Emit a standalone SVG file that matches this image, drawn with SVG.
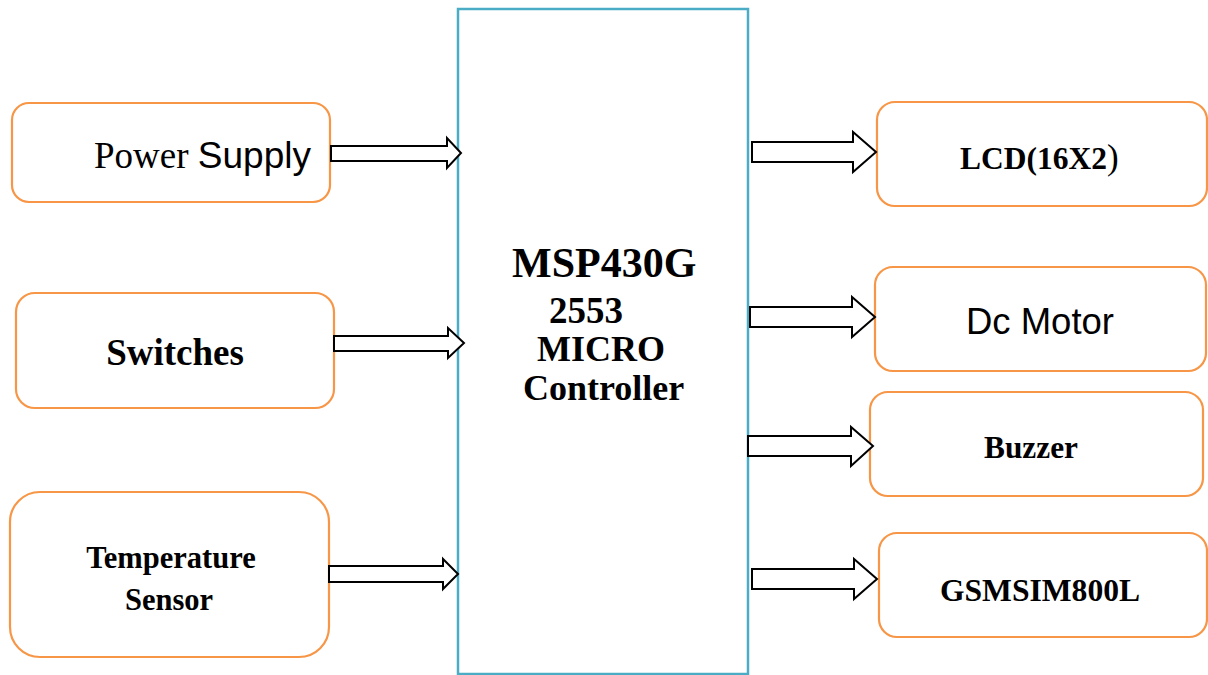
<svg xmlns="http://www.w3.org/2000/svg" width="1208" height="675" viewBox="0 0 1208 675">
<style>
.box{fill:#fff;stroke:#f79646;stroke-width:2.2}
.mcu{fill:#fff;stroke:#4bacc6;stroke-width:2.5}
.arr{fill:#fff;stroke:#000;stroke-width:2;stroke-linejoin:miter}
.tb{font-family:"Liberation Serif","Times New Roman",serif;font-weight:bold;fill:#000}
.tr{font-family:"Liberation Serif","Times New Roman",serif;fill:#000}
.ar{font-family:"Liberation Sans",Arial,sans-serif;fill:#000}
</style>
<rect width="1208" height="675" fill="#fff"/>
<g id="mcu">
<rect class="mcu" x="458" y="9" width="290" height="665"/>
<text class="tb" x="512" y="277" font-size="42">MSP430G</text>
<text class="tb" x="549" y="323" font-size="37">2553</text>
<text class="tb" x="537" y="361" font-size="36">MICRO</text>
<text class="tb" x="523" y="400" font-size="36">Controller</text>
</g>
<g id="power">
<rect class="box" x="12" y="103" width="318" height="99" rx="17"/>
<text x="94" y="168" font-size="37"><tspan class="tr">Power </tspan><tspan class="ar">Supply</tspan></text>
</g>
<g id="switches">
<rect class="box" x="16" y="293" width="318" height="115" rx="19"/>
<text class="tb" x="175" y="365" font-size="37" text-anchor="middle">Switches</text>
</g>
<g id="temp">
<rect class="box" x="10" y="492" width="319" height="165" rx="30"/>
<text class="tb" x="171" y="568" font-size="30.5" text-anchor="middle">Temperature</text>
<text class="tb" x="169" y="610" font-size="30.5" text-anchor="middle">Sensor</text>
</g>
<g id="lcd">
<rect class="box" x="877" y="102" width="330" height="104" rx="18"/>
<text x="960" y="169" font-size="31.5"><tspan class="tb">LCD(16X2</tspan><tspan class="tr" font-size="35">)</tspan></text>
</g>
<g id="motor">
<rect class="box" x="875" y="267" width="331" height="104" rx="18"/>
<text class="ar" x="1040" y="334" font-size="36.5" text-anchor="middle">Dc Motor</text>
</g>
<g id="buzzer">
<rect class="box" x="870" y="392" width="333" height="104" rx="18"/>
<text class="tb" x="1031" y="458" font-size="31.3" text-anchor="middle">Buzzer</text>
</g>
<g id="gsm">
<rect class="box" x="879" y="533" width="328" height="104" rx="18"/>
<text class="tb" x="1040" y="601" font-size="31.6" text-anchor="middle">GSMSIM800L</text>
</g>
<g id="connectors">
<polygon class="arr" points="331,146 447,146 447,138 461,153 447,168 447,161 331,161"/>
<polygon class="arr" points="334,336 448,336 448,328 464,343 448,358 448,351 334,351"/>
<polygon class="arr" points="329,566 443,566 443,559 458,574 443,589 443,582 329,582"/>
<polygon class="arr" points="752,142 853,142 853,132 876,152 853,172 853,162 752,162"/>
<polygon class="arr" points="750,307 852,307 852,297 875,317 852,337 852,327 750,327"/>
<polygon class="arr" points="748,436 851,436 851,427 873,446 851,466 851,456 748,456"/>
<polygon class="arr" points="752,569 854,569 854,559 877,579 854,599 854,589 752,589"/>
</g>
</svg>
